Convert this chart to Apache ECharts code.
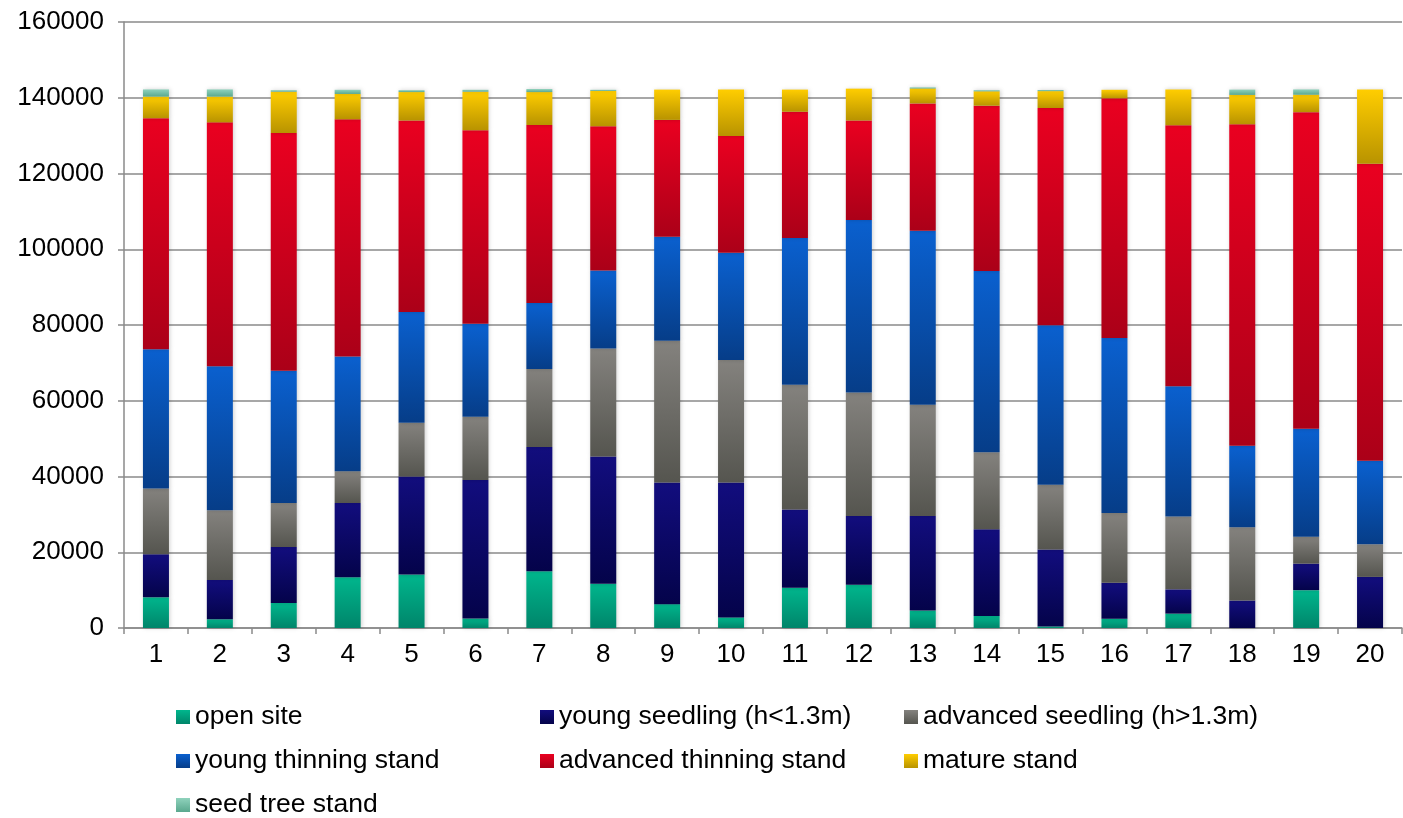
<!DOCTYPE html>
<html>
<head>
<meta charset="utf-8">
<script src="https://cdn.jsdelivr.net/npm/echarts@6/dist/echarts.min.js"></script>
<style>
  html, body { margin: 0; padding: 0; background: #ffffff; }
  #chart { width: 1403px; height: 818px; }
</style>
</head>
<body>
<div id="chart"></div>
<script>
// Plot categories (1..20)
const categories = ['1','2','3','4','5','6','7','8','9','10','11','12','13','14','15','16','17','18','19','20'];

// Stacked area per stand class
const openSite         = [8100, 2300, 6600, 13400, 14100, 2500, 15000, 11700, 6300, 2800, 10600, 11400, 4600, 3200, 400, 2450, 3800, 0, 10000, 0];
const youngSeedling    = [11400, 10400, 14800, 19600, 25900, 36600, 32800, 33600, 32100, 35600, 20700, 18200, 25000, 22900, 20300, 9500, 6400, 7250, 7000, 13500];
const advancedSeedling = [17300, 18400, 11600, 8400, 14200, 16700, 20600, 28500, 37450, 32350, 32900, 32550, 29350, 20300, 17100, 18400, 19250, 19350, 7100, 8600];
const youngThinning    = [36800, 38000, 34900, 30300, 29200, 24500, 17400, 20600, 27450, 28300, 38800, 45550, 45950, 47850, 42150, 46200, 34350, 21500, 28500, 22050];
const advancedThinning = [61000, 64400, 62800, 62600, 50600, 51100, 47000, 38100, 30850, 30850, 33300, 26300, 33600, 43650, 57350, 63300, 68950, 84900, 83600, 78400];
const matureStand      = [5700, 6800, 10900, 6700, 7500, 10200, 8700, 9300, 8000, 12250, 5850, 8400, 3950, 3800, 4450, 2250, 9450, 7750, 4600, 19600];
const seedTreeStand    = [1900, 1900, 400, 1100, 500, 500, 800, 300, 0, 0, 0, 0, 300, 300, 300, 0, 0, 1400, 1400, 0];

// Y axis scale
const yMin = 0, yMax = 160000, yStep = 20000;

const FONT = "'Liberation Sans', Arial, sans-serif";
const AXIS_GRAY = '#8a8a8a';

function grad(top, bottom) {
  return {
    type: 'linear', x: 0, y: 0, x2: 0, y2: 1,
    colorStops: [{ offset: 0, color: top }, { offset: 1, color: bottom }]
  };
}

const seriesDefs = [
  { name: 'open site',                  data: openSite,         color: grad('#00b68d', '#00856a') },
  { name: 'young seedling (h<1.3m)',    data: youngSeedling,    color: grad('#120d7e', '#04034a') },
  { name: 'advanced seedling (h>1.3m)', data: advancedSeedling, color: grad('#84827e', '#55554f') },
  { name: 'young thinning stand',       data: youngThinning,    color: grad('#0a60cf', '#063d88') },
  { name: 'advanced thinning stand',    data: advancedThinning, color: grad('#ea0020', '#ab0018') },
  { name: 'mature stand',               data: matureStand,      color: grad('#ffcd00', '#b89300') },
  { name: 'seed tree stand',            data: seedTreeStand,    color: grad('#8fd2bc', '#5aa88e') }
];

const chart = echarts.init(document.getElementById('chart'), null, { renderer: 'canvas' });

chart.setOption({
  animation: false,
  backgroundColor: '#ffffff',
  textStyle: { fontFamily: FONT },
  grid: { left: 124, right: 1, top: 22, bottom: 190, containLabel: false },
  legend: {
    left: 176,
    top: 702,
    right: 0,
    padding: 0,
    orient: 'horizontal',
    itemWidth: 14,
    itemHeight: 14,
    itemGap: 14,
    icon: 'rect',
    textStyle: {
      fontFamily: FONT,
      fontSize: 26.5,
      color: '#000000',
      width: 331,
      lineHeight: 30,
      overflow: 'none'
    },
    data: seriesDefs.map(s => s.name)
  },
  xAxis: {
    type: 'category',
    data: categories,
    boundaryGap: true,
    axisLine: { show: true, lineStyle: { color: AXIS_GRAY, width: 1.5 } },
    axisTick: { show: true, length: 6, inside: false, alignWithLabel: false, lineStyle: { color: AXIS_GRAY, width: 1.5 } },
    axisLabel: { color: '#000000', fontSize: 26, fontFamily: FONT, margin: 14 },
    splitLine: { show: false }
  },
  yAxis: {
    type: 'value',
    min: yMin,
    max: yMax,
    interval: yStep,
    axisLine: { show: true, lineStyle: { color: AXIS_GRAY, width: 1.5 } },
    axisTick: { show: true, length: 6, inside: false, lineStyle: { color: AXIS_GRAY, width: 1.5 } },
    axisLabel: { color: '#000000', fontSize: 26, fontFamily: FONT, margin: 20, formatter: v => String(v) },
    splitLine: { show: true, lineStyle: { color: AXIS_GRAY, width: 1.5 } }
  },
  series: seriesDefs.map(s => ({
    name: s.name,
    type: 'bar',
    stack: 'area',
    barWidth: 26,
    data: s.data,
    itemStyle: {
      color: s.color,
      shadowBlur: 4,
      shadowColor: 'rgba(0,0,0,0.18)',
      shadowOffsetX: 1
    },
    emphasis: { disabled: true }
  }))
});
</script>
</body>
</html>
